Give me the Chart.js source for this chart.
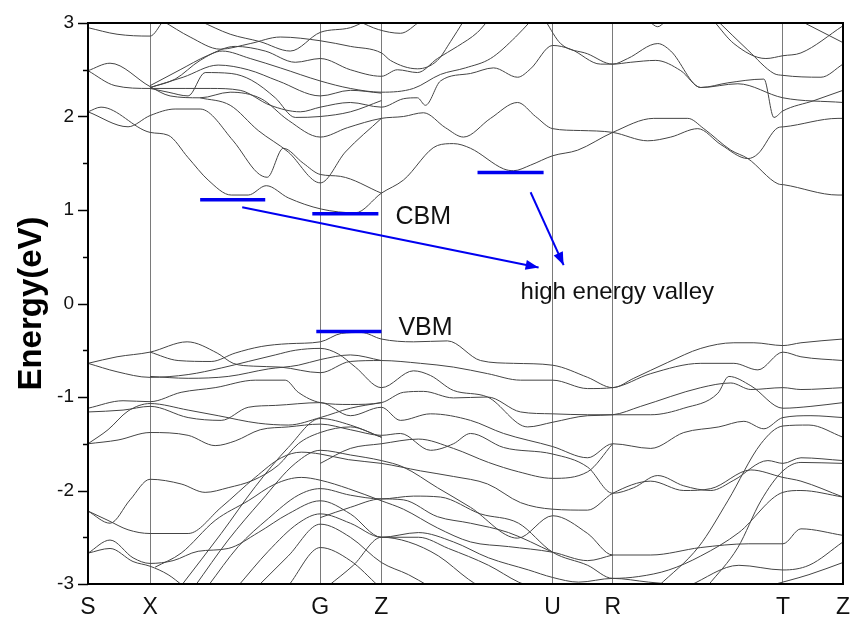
<!DOCTYPE html>
<html>
<head>
<meta charset="utf-8">
<script src="https://cdn.jsdelivr.net/npm/chart.js@4/dist/chart.umd.min.js"></script>
<style>
  html, body { margin: 0; padding: 0; background: #fff; }
  #wrap { width: 853px; height: 625px; }
</style>
</head>
<body>
<div id="wrap"><canvas id="bands" width="853" height="625"></canvas></div>
<script>
// high-symmetry points along the k-path
const kLabels = ['S', 'X', 'G', 'Z', 'U', 'R', 'T', 'Z'];
const kPos    = [0, 62, 232, 293, 464, 524, 694, 754];
const yMajor  = [-3, -2, -1, 0, 1, 2, 3];

// conduction bands  [k, E(eV)]
const cb1 = [[0,2.05],[13,2.10],[62,1.83],[80,1.80],[100,1.56],[120,1.32],[143,1.16],[160,1.16],[178,1.26],[200,1.13],[233,1.01],[267,0.97],[293,1.18],[315,1.32],[349,1.69],[365,1.71],[382,1.66],[415,1.44],[425,1.42],[442,1.48],[464,1.58],[489,1.64],[524,1.83],[565,1.98],[599,1.98],[615,1.87],[642,1.64],[659,1.55],[689,1.28],[695,1.27],[749,1.16],[754,1.16]];
const cb2 = [[0,2.05],[40,1.89],[62,2.01],[87,2.08],[112,2.08],[145,1.74],[169,1.40],[179,1.35],[195,1.66],[215,1.50],[232,1.38],[252,1.36],[293,1.18]];
const cb3 = [[0,2.49],[22,2.57],[62,2.32],[82,2.22],[112,2.20],[142,2.26],[173,2.19],[200,1.96],[232,1.78],[259,1.88],[293,1.98],[315,2.00],[335,2.04],[357,1.88],[375,1.78],[402,1.98],[429,2.15],[447,2.00],[464,1.87],[492,1.85],[524,1.83],[559,1.74],[582,1.78],[609,1.87],[632,1.70],[659,1.55],[669,1.60],[689,1.88],[695,1.89],[749,1.98],[754,1.98]];
const cb4 = [[112,2.20],[142,2.12],[170,1.85],[200,1.62],[232,1.29],[257,1.62],[293,1.98]];
const cb5 = [[0,2.95],[29,2.88],[62,2.86],[75,3.02]];
const cb6 = [[0,2.49],[27,2.33],[62,2.30],[97,2.30],[122,2.30],[152,2.28],[182,2.12],[212,2.05],[232,2.10],[262,2.15],[293,2.10],[315,2.19],[329,2.20],[337,2.12],[352,2.38],[382,2.46],[405,2.52],[429,2.42],[442,2.51],[464,2.76],[482,2.72],[512,2.56],[524,2.56],[539,2.62],[569,2.78],[582,2.70],[612,2.31],[639,2.36],[675,2.40],[685,1.99],[694,2.06],[725,2.17],[754,2.28]];
const cb7 = [[62,2.31],[87,2.40],[112,2.60],[134,2.70],[162,2.62],[192,2.52],[232,2.38],[262,2.30],[293,2.26],[325,2.30],[352,2.45],[377,2.52],[402,2.62],[427,2.85],[442,3.02]];
const cb8 = [[62,2.33],[92,2.50],[119,2.65],[147,2.75],[177,2.70],[207,2.58],[232,2.62],[262,2.50],[293,2.43],[309,2.50],[329,2.47],[349,2.62],[369,2.75],[389,2.90],[399,3.02]];
const cb9 = [[75,3.02],[102,2.85],[132,2.72],[162,2.78],[192,2.85],[232,2.81],[262,2.75],[293,2.68],[302,2.60],[329,2.51],[349,2.60],[362,2.80],[375,3.02]];
const cb10 = [[112,3.02],[142,2.88],[172,2.80],[202,2.70],[232,2.90],[262,2.95],[277,3.02]];
const cb11 = [[270,3.02],[290,2.93],[312,2.89],[332,3.02]];
const cb12 = [[457,3.02],[472,2.78],[499,2.67],[524,2.56],[542,2.58],[567,2.60],[592,2.49],[612,2.31],[649,2.35],[694,2.20],[754,2.15]];
const cb13 = [[625,3.02],[645,2.78],[677,2.62],[694,2.65],[712,2.68],[754,2.97]];
const cb14 = [[629,3.02],[659,2.71],[685,2.46],[694,2.44],[732,2.42],[754,2.56]];
const cb15 = [[712,3.02],[754,2.79]];
const cb16 = [[560,3.02],[569,2.96],[577,3.02]];
const cb17 = [[62,2.30],[80,2.26],[100,2.22],[117,2.47],[143,2.46],[163,2.39],[187,2.20],[207,1.99],[232,2.00],[262,2.05],[293,2.17]];
const cb18 = [[62,2.31],[95,2.42],[130,2.55],[160,2.50],[190,2.38],[232,2.22],[262,2.28],[293,2.25]];

// valence bands  [k, E(eV)]
const vb1 = [[0,-0.64],[29,-0.57],[62,-0.52],[99,-0.41],[129,-0.53],[145,-0.64],[165,-0.67],[192,-0.68],[232,-0.74],[262,-0.62],[293,-0.61],[332,-0.64],[365,-0.68],[399,-0.75],[432,-0.82],[464,-0.82],[499,-0.91],[524,-0.90],[562,-0.75],[612,-0.64],[645,-0.64],[669,-0.71],[694,-0.52],[712,-0.57],[754,-0.61]];
const vb2 = [[62,-0.52],[90,-0.61],[123,-0.62],[147,-0.53],[173,-0.46],[200,-0.43],[232,-0.41],[253,-0.32],[273,-0.31],[293,-0.38],[325,-0.41],[359,-0.40],[392,-0.61],[425,-0.64],[464,-0.66],[499,-0.79],[524,-0.90],[545,-0.80],[579,-0.63],[612,-0.48],[645,-0.42],[665,-0.42],[694,-0.45],[712,-0.42],[754,-0.38]];
const vb3 = [[0,-0.64],[29,-0.73],[62,-0.79],[100,-0.76],[133,-0.69],[160,-0.62],[187,-0.55],[207,-0.50],[232,-0.48],[250,-0.54],[267,-0.68],[293,-0.90],[325,-0.72],[342,-0.77],[365,-0.93],[399,-1.00],[439,-1.32],[464,-1.27],[499,-1.20],[524,-1.19],[552,-1.10],[612,-0.90],[642,-0.85],[662,-0.92],[694,-0.90],[712,-0.92],[754,-0.90]];
const vb4 = [[62,-0.78],[100,-0.80],[140,-0.78],[180,-0.70],[210,-0.66],[232,-0.60],[262,-0.55],[293,-0.61]];
const vb5 = [[0,-1.12],[35,-1.04],[62,-1.05],[93,-0.95],[127,-0.90],[167,-0.82],[197,-0.82],[210,-0.95],[232,-1.06],[262,-1.08],[293,-1.06],[315,-0.95],[335,-0.94],[365,-1.01],[399,-1.00],[432,-1.16],[464,-1.18],[499,-1.19],[524,-1.19],[562,-1.19],[595,-1.12],[629,-0.96],[640,-0.78],[662,-0.88],[694,-1.12],[722,-1.10],[754,-1.06]];
const vb6 = [[0,-1.16],[35,-1.14],[62,-1.10],[100,-1.22],[133,-1.25],[160,-1.11],[187,-1.09],[232,-1.06],[262,-1.20],[293,-1.11],[312,-1.25],[342,-1.18],[382,-1.25],[415,-1.39],[464,-1.53],[499,-1.65],[524,-1.50],[562,-1.55],[595,-1.38],[630,-1.32],[655,-1.26],[675,-1.34],[694,-1.22],[722,-1.20],[754,-1.22]];
const vb7 = [[0,-1.50],[20,-1.35],[40,-1.15],[62,-1.07],[100,-1.14],[130,-1.20],[170,-1.28],[200,-1.30],[232,-1.22],[262,-1.12],[293,-1.06]];
const vb8 = [[0,-1.50],[30,-1.46],[62,-1.38],[100,-1.41],[127,-1.52],[147,-1.47],[172,-1.35],[200,-1.32],[232,-1.29],[262,-1.35],[293,-1.41],[312,-1.39],[342,-1.57],[365,-1.50],[382,-1.39],[415,-1.54],[464,-1.61],[499,-1.75],[524,-2.03],[545,-1.97],[569,-1.84],[595,-1.95],[622,-2.00],[645,-1.89],[679,-1.68],[694,-1.71],[712,-1.65],[754,-1.68]];
const vb9 = [[0,-2.22],[22,-2.35],[42,-2.10],[62,-1.88],[93,-1.93],[117,-2.02],[140,-1.97],[165,-1.89],[190,-1.73],[210,-1.50],[232,-1.38],[262,-1.32],[293,-1.43]];
const vb10 = [[0,-2.22],[20,-2.32],[40,-2.42],[62,-2.46],[100,-2.46],[133,-2.18],[167,-1.86],[193,-1.65],[213,-1.59],[232,-1.61],[260,-1.67],[293,-1.71],[332,-1.79],[365,-1.85],[399,-1.93],[432,-2.13],[464,-2.20],[499,-2.21],[524,-2.03],[562,-1.90],[595,-2.00],[622,-1.98],[662,-1.78],[694,-1.86],[712,-1.90],[754,-2.07]];
const vb11 = [[93,-3.02],[133,-2.46],[167,-1.96],[200,-1.54],[232,-1.23],[262,-1.30],[293,-1.43]];
const vb12 = [[107,-3.02],[140,-2.53],[173,-2.11],[207,-1.71],[232,-1.57],[262,-1.62],[293,-1.68],[315,-1.75],[349,-1.97],[382,-2.18],[429,-2.51],[464,-2.27],[499,-2.46],[524,-2.69],[562,-2.69],[612,-2.61],[660,-2.57],[694,-2.57],[712,-2.41],[754,-2.48]];
const vb13 = [[120,-3.02],[150,-2.60],[180,-2.30],[210,-2.05],[232,-1.98],[262,-2.05],[293,-2.09],[325,-2.06],[352,-2.07],[392,-2.25],[430,-2.35],[464,-2.66],[499,-2.80],[524,-2.94],[550,-2.92],[580,-2.85],[612,-2.70],[650,-2.45],[694,-2.02],[712,-2.00],[754,-2.07]];
const vb14 = [[67,-2.82],[93,-2.67],[127,-2.32],[160,-2.11],[187,-1.93],[213,-1.86],[232,-1.89],[260,-1.98],[293,-2.11],[315,-2.20],[349,-2.40],[382,-2.55],[420,-2.60],[464,-2.66],[499,-2.75],[524,-2.69]];
const vb15 = [[0,-2.67],[22,-2.53],[45,-2.72],[62,-2.78],[85,-2.75],[110,-2.65],[140,-2.62],[170,-2.45],[200,-2.25],[232,-2.11],[262,-2.25],[293,-2.50],[330,-2.45],[365,-2.55],[400,-2.72],[440,-2.85],[464,-2.93],[490,-2.98],[524,-2.94],[560,-2.98],[600,-3.02]];
const vb16 = [[0,-2.67],[22,-2.62],[45,-2.76],[62,-2.81],[80,-2.90],[95,-3.02]];
const vb17 = [[150,-3.02],[180,-2.65],[210,-2.35],[232,-2.25],[262,-2.35],[293,-2.50],[330,-2.50],[360,-2.62],[400,-2.80],[430,-2.98],[440,-3.02]];
const vb18 = [[170,-3.02],[200,-2.70],[232,-2.36],[262,-2.50],[293,-2.77],[320,-2.90],[340,-3.02]];
const vb19 = [[200,-3.02],[232,-2.61],[262,-2.75],[290,-3.02]];
const vb20 = [[240,-3.02],[265,-2.80],[293,-2.50],[320,-2.55],[350,-2.70],[380,-2.95],[390,-3.02]];
const vb21 = [[600,-3.02],[650,-2.80],[694,-2.85],[720,-2.80],[754,-2.55]];
const vb22 = [[680,-3.02],[720,-2.90],[754,-2.77]];
const vb23 = [[619,-3.02],[649,-2.61],[672,-2.11],[694,-1.79],[712,-1.70],[754,-1.71]];
const vb24 = [[570,-3.02],[610,-2.60],[639,-2.11],[672,-1.50],[694,-1.31],[720,-1.30],[754,-1.43]];
const vb25 = [[232,-1.71],[262,-1.55],[293,-1.50],[330,-1.45],[365,-1.55],[400,-1.70],[430,-1.80],[464,-1.87],[499,-1.80],[524,-1.50]];
const vb26 = [[232,-2.29],[262,-2.18],[293,-2.09],[315,-2.10],[349,-2.28],[382,-2.35],[420,-2.45],[464,-2.66]];

const bands = [cb1, cb2, cb3, cb4, cb5, cb6, cb7, cb8, cb9, cb10, cb11, cb12, cb13, cb14, cb15, cb16, cb17, cb18,
               vb1, vb2, vb3, vb4, vb5, vb6, vb7, vb8, vb9, vb10, vb11, vb12, vb13, vb14, vb15, vb16, vb17, vb18,
               vb19, vb20, vb21, vb22, vb23, vb24, vb25, vb26];

// band-edge markers [kStart, kEnd, E]
const markers = [[112, 177, 1.11], [224, 290, 0.96], [389, 455, 1.40], [228, 293, -0.30]];
// arrows [kFrom, EFrom, kTo, ETo]
const arrows = [[154, 1.03, 450, 0.385], [442, 1.19, 475, 0.41]];
// text labels [text, k, E, size]
const notes = [['CBM', 307, 0.92, 25], ['VBM', 310, -0.26, 25], ['high energy valley', 432, 0.12, 24]];

const BLUE = '#0000f0';
const toPts = arr => arr.map(p => ({ x: p[0], y: p[1] }));

const datasets = [];
markers.forEach(m => datasets.push({
  data: [{ x: m[0], y: m[2] }, { x: m[1], y: m[2] }],
  borderColor: BLUE, borderWidth: 3.5, pointRadius: 0, order: 0
}));
arrows.forEach(a => datasets.push({
  data: [{ x: a[0], y: a[1] }, { x: a[2], y: a[3] }],
  borderColor: BLUE, borderWidth: 2, pointRadius: 0, order: 0
}));
bands.forEach(b => datasets.push({
  data: toPts(b),
  borderColor: '#444', borderWidth: 1, pointRadius: 0,
  cubicInterpolationMode: 'monotone', order: 1
}));

// minor ticks, frame, arrow heads and labels
const extras = {
  id: 'extras',
  afterDatasetsDraw(chart) {
    const { ctx, chartArea: ca, scales: { x, y } } = chart;
    ctx.save();
    // y ticks (major & minor), outward
    ctx.strokeStyle = '#000';
    ctx.lineWidth = 1.5;
    for (let i = -6; i <= 6; i++) {
      const py = Math.round(y.getPixelForValue(i / 2)) + 0.5;
      const len = i % 2 === 0 ? 10 : 5;
      ctx.beginPath();
      ctx.moveTo(ca.left - len, py);
      ctx.lineTo(ca.left, py);
      ctx.stroke();
    }
    // frame
    ctx.lineWidth = 2;
    ctx.strokeRect(ca.left, ca.top, ca.right - ca.left, ca.bottom - ca.top);
    // arrow heads
    ctx.fillStyle = BLUE;
    arrows.forEach(a => {
      const x0 = x.getPixelForValue(a[0]), y0 = y.getPixelForValue(a[1]);
      const x1 = x.getPixelForValue(a[2]), y1 = y.getPixelForValue(a[3]);
      const ang = Math.atan2(y1 - y0, x1 - x0);
      const L = 13, W = 5;
      ctx.beginPath();
      ctx.moveTo(x1, y1);
      ctx.lineTo(x1 - L * Math.cos(ang) + W * Math.sin(ang), y1 - L * Math.sin(ang) - W * Math.cos(ang));
      ctx.lineTo(x1 - L * Math.cos(ang) - W * Math.sin(ang), y1 - L * Math.sin(ang) + W * Math.cos(ang));
      ctx.closePath();
      ctx.fill();
    });
    // labels
    ctx.fillStyle = '#111';
    ctx.textBaseline = 'middle';
    notes.forEach(n => {
      ctx.font = n[3] + 'px "Liberation Sans", Arial, sans-serif';
      ctx.fillText(n[0], x.getPixelForValue(n[1]), y.getPixelForValue(n[2]));
    });
    ctx.restore();
  }
};

new Chart(document.getElementById('bands'), {
  type: 'line',
  data: { datasets },
  options: {
    responsive: false,
    animation: false,
    layout: { padding: { top: 23, right: 10, left: 0, bottom: 0 } },
    plugins: { legend: { display: false }, tooltip: { enabled: false } },
    scales: {
      x: {
        type: 'linear', min: 0, max: 754,
        afterBuildTicks: s => { s.ticks = kPos.map(v => ({ value: v })); },
        afterFit: s => { s.height = 41; s.paddingLeft = 0; s.paddingRight = 0; },
        ticks: {
          autoSkip: false, maxRotation: 0, padding: 10,
          color: '#111', font: { family: '"Liberation Sans", Arial', size: 23 },
          callback: (v, i) => kLabels[i]
        },
        grid: { color: '#7a7a7a', lineWidth: 1, drawTicks: false },
        border: { display: true, color: '#000', width: 2 }
      },
      y: {
        min: -3, max: 3,
        afterBuildTicks: s => { s.ticks = yMajor.map(v => ({ value: v })); },
        afterFit: s => { s.width = 88; s.paddingTop = 0; s.paddingBottom = 0; },
        ticks: {
          padding: 4, color: '#111',
          font: { family: '"Liberation Sans", Arial', size: 19 },
          callback: v => String(v)
        },
        grid: { drawOnChartArea: false, drawTicks: true, tickLength: 10, color: 'rgba(0,0,0,0)' },
        border: { display: true, color: '#000', width: 2 },
        title: {
          display: true, text: 'Energy(eV)', color: '#000',
          font: { family: '"Liberation Sans", Arial', size: 33, weight: 'bold' },
          padding: { top: 12, bottom: 0 }
        }
      }
    }
  },
  plugins: [extras]
});
</script>
</body>
</html>
